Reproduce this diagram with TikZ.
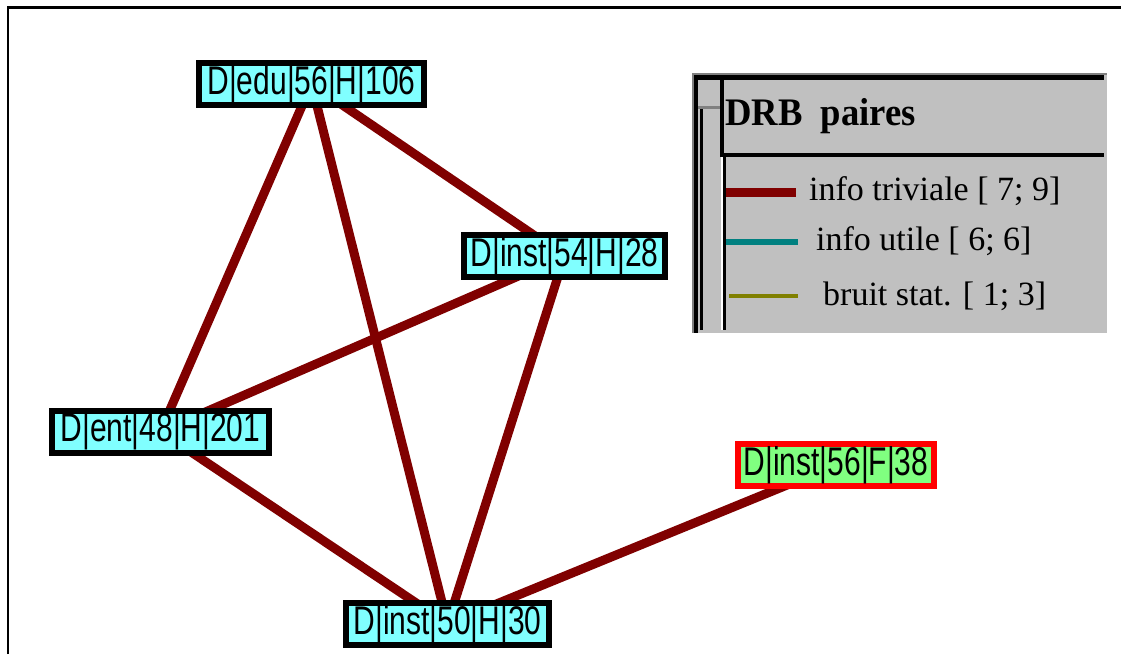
\documentclass[tikz,border=0pt]{standalone}
\usepackage{fontspec}
\setmainfont{Liberation Serif}
\newfontfamily\nodefont{Liberation Sans}
\usetikzlibrary{backgrounds}
\definecolor{edgered}{RGB}{128,0,0}
\definecolor{checkcyan}{RGB}{128,255,255}
\definecolor{checkgreen}{RGB}{128,255,128}
\definecolor{panelgray}{RGB}{192,192,192}
\definecolor{framegray}{RGB}{128,128,128}
\definecolor{legteal}{RGB}{0,128,128}
\definecolor{legolive}{RGB}{128,128,0}
\newcommand{\ntext}[1]{\scalebox{0.75}[1]{\nodefont\fontsize{40}{40}\selectfont #1}}
\begin{document}
\begin{tikzpicture}[x=1pt,y=-1pt,
  dnode/.style={draw=black, line width=6pt, fill=checkcyan, minimum height=42pt, inner sep=0pt},
  fnode/.style={dnode, draw=red, fill=checkgreen},
  link/.style={draw=edgered, line width=9pt},
  legtext/.style={anchor=base west, inner sep=0pt, font=\fontsize{34}{34}\selectfont}]
\useasboundingbox (0,0) rectangle (1121,654);
% frame
\draw[line width=2.5pt] (8,654) -- (8,7.5) -- (1121,7.5);
% nodes
\node[dnode, minimum width=225pt] (dedu) at (311.5,84) {\ntext{D|edu|56|H|106}};
\node[dnode, minimum width=201pt] (d54) at (564.5,256) {\ntext{D|inst|54|H|28}};
\node[dnode, minimum width=217pt] (d48) at (160.5,431.5) {\ntext{D|ent|48|H|201}};
\node[dnode, minimum width=203pt] (d50) at (447.5,624) {\ntext{D|inst|50|H|30}};
\node[fnode, minimum width=196pt] (d56) at (836,465) {\ntext{D|inst|56|F|38}};
% edges
\begin{scope}[on background layer]
\draw[link] (dedu.center) -- (d48.center);
\draw[link] (dedu.center) -- (d50.center);
\draw[link] (dedu.center) -- (d54.center);
\draw[link] (d54.center) -- (d48.center);
\draw[link] (d54.center) -- (d50.center);
\draw[link] (d48.center) -- (d50.center);
\draw[link] (d56.center) -- (d50.center);
\end{scope}
% legend panel
\fill[panelgray] (692,73) rectangle (1107,333);
\fill[framegray] (692,73) rectangle (694,333);
\fill[framegray] (692,73) rectangle (1107,75);
\fill[black] (694,75) rectangle (698,333);
\fill[black] (694,75) rectangle (1104,80);
\fill[framegray] (698,106) rectangle (721,109);
\fill[black] (700,109) rectangle (703,330);
\fill[black] (720,80) rectangle (724,157);
\fill[black] (720,153) rectangle (1104,157);
\fill[white] (721,157) rectangle (723,330);
\fill[black] (723,157) rectangle (725.5,330);
\node[anchor=base west, inner sep=0pt] (title) at (725,125)
  {\scalebox{0.94}[1]{\fontsize{39}{39}\selectfont\bfseries DRB\ \ paires}};
\fill[edgered] (726,188) rectangle (796,197);
\fill[legteal] (726,239) rectangle (798,245);
\fill[legolive] (729,294) rectangle (798,298);
\node[legtext] (l1) at (809,200) {info triviale [ 7; 9]};
\node[legtext] (l2) at (816,250) {info utile [ 6; 6]};
\node[legtext] (l3) at (823,305) {bruit stat. [ 1; 3]};
\end{tikzpicture}
\end{document}
